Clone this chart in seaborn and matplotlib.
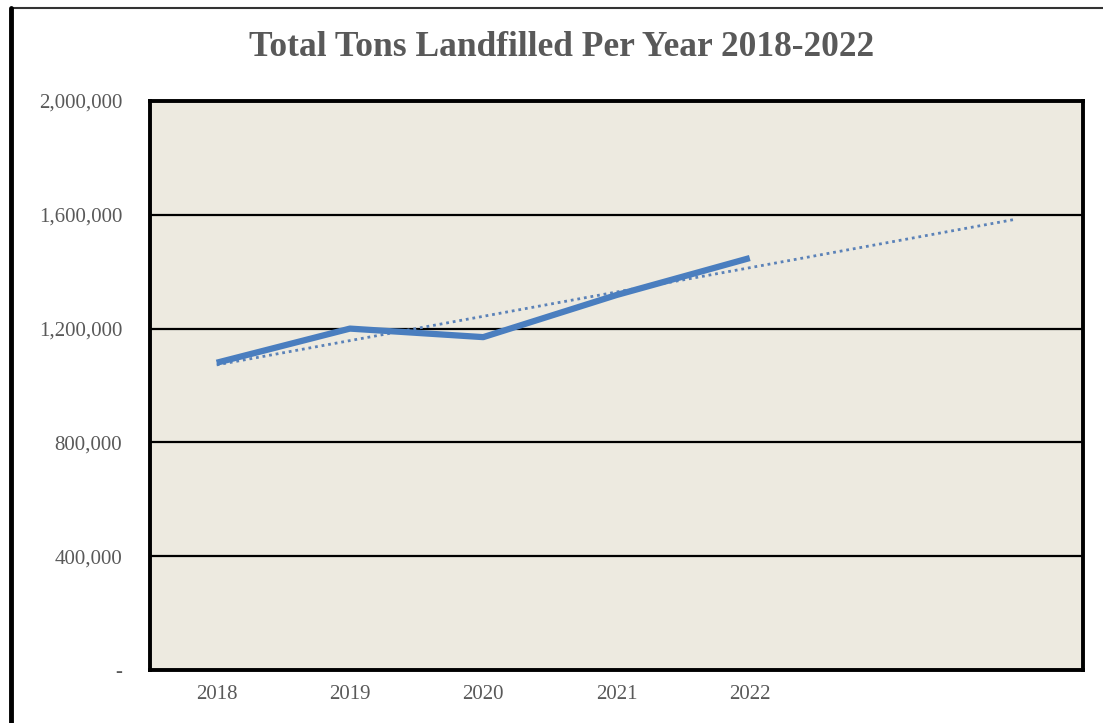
import numpy as np
import pandas as pd
import matplotlib
matplotlib.use("Agg")
import matplotlib.pyplot as plt
from matplotlib.lines import Line2D
import seaborn as sns

years = ["2018", "2019", "2020", "2021", "2022"]
tons = [1080000, 1200000, 1170000, 1318000, 1448000]
forecast_periods = 2
y_ticks = [0, 400000, 800000, 1200000, 1600000, 2000000]
y_tick_labels = ["-", "400,000", "800,000", "1,200,000", "1,600,000", "2,000,000"]
title = "Total Tons Landfilled Per Year 2018-2022"

sns.set_theme(style="white")
plt.rcParams["font.family"] = ["Liberation Serif", "DejaVu Serif"]

line_color = "#4A7EBF"
trend_color = "#5B82B8"
bg_color = "#EDEAE0"
text_color = "#595959"

df = pd.DataFrame({"idx": np.arange(len(years)), "tons": tons})

fig = plt.figure(figsize=(11.03, 7.23), dpi=100)
ax = fig.add_axes([150 / 1103, 1 - 670 / 723, (1083 - 150) / 1103, (670 - 101) / 723])
ax.set_facecolor(bg_color)

# trendline (linear, forecast forward)
slope, intercept = np.polyfit(df["idx"], df["tons"], 1)
tx = np.array([0, len(years) - 1 + forecast_periods])
ax.plot(tx, intercept + slope * tx, linestyle=(0, (1, 1.4)), color=trend_color,
        linewidth=2.0, zorder=3)

sns.lineplot(data=df, x="idx", y="tons", ax=ax, color=line_color, linewidth=4.5,
             zorder=4, solid_capstyle="butt")

ax.set_xlim(-0.5, len(years) - 1 + forecast_periods + 0.5)
ax.set_ylim(0, 2000000)
ax.set_yticks(y_ticks)
ax.set_yticklabels(y_tick_labels)
ax.set_xticks(range(len(years)))
ax.set_xticklabels(years)
ax.set_xlabel("")
ax.set_ylabel("")
for yv in y_ticks[1:-1]:
    ax.axhline(yv, color="black", linewidth=1.6, zorder=2)
ax.tick_params(axis="both", length=0, labelsize=15, colors=text_color)
ax.tick_params(axis="y", pad=20)
ax.tick_params(axis="x", pad=11)
for s in ax.spines.values():
    s.set_visible(True)
    s.set_color("black")
    s.set_linewidth(2.8)

fig.text(562 / 1103, 1 - 48 / 723, title, ha="center", va="center", fontsize=25.5,
         fontweight="bold", color=text_color)

# outer frame lines
fig.add_artist(Line2D([11 / 1103, 1.0], [1 - 8 / 723, 1 - 8 / 723], color="#333333",
                      linewidth=1.5, transform=fig.transFigure))
fig.add_artist(Line2D([11 / 1103, 11 / 1103], [0, 1 - 8 / 723], color="black",
                      linewidth=3.5, transform=fig.transFigure))

fig.savefig("out.png", dpi=100, facecolor="white")
